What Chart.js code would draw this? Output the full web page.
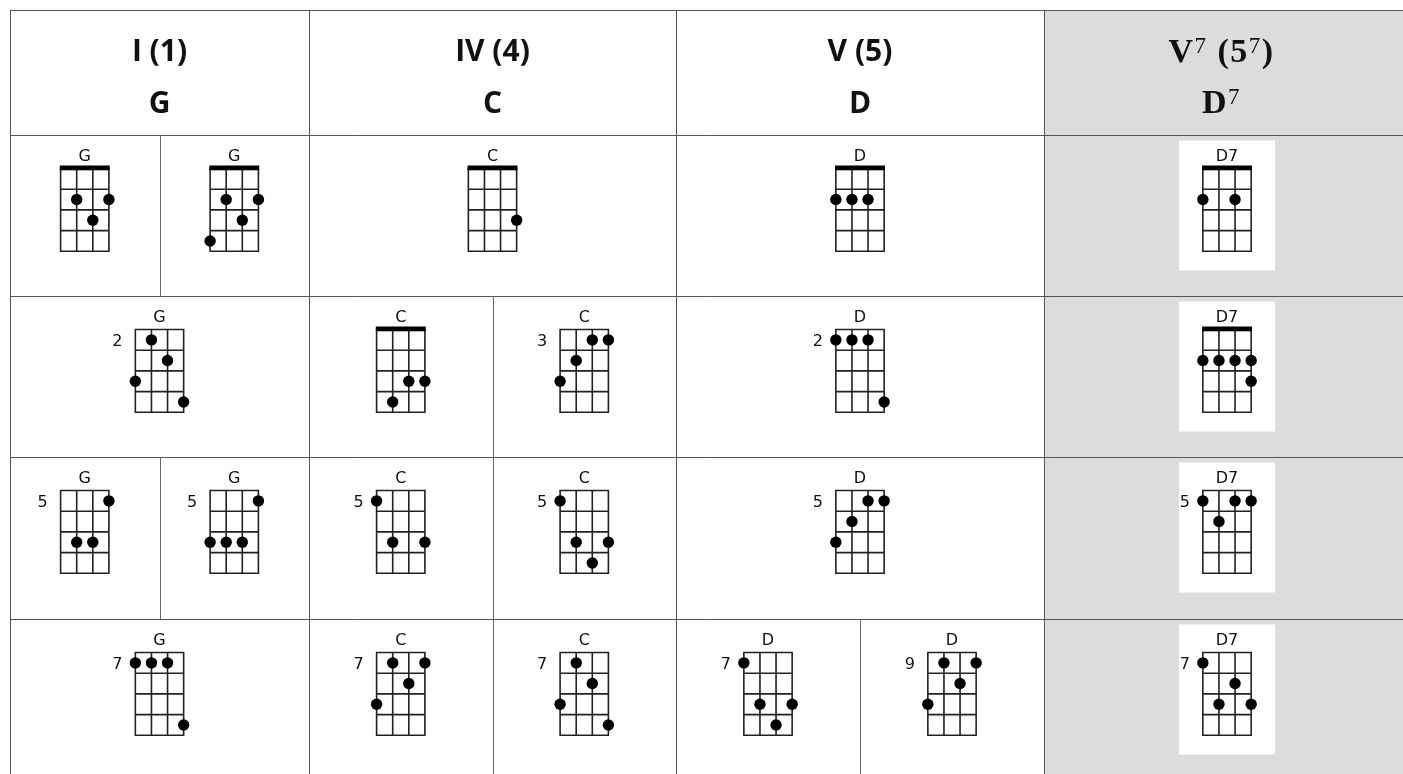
<!DOCTYPE html>
<html><head><meta charset="utf-8">
<script src="https://cdn.jsdelivr.net/npm/chart.js@4.4.0/dist/chart.umd.min.js"></script>
<style>html,body{margin:0;padding:0;background:#fff;overflow:hidden}canvas{display:block}</style>
</head><body>
<canvas id="c" width="1403" height="774"></canvas>
<script>
// ---------- DATA ----------
const romanNumerals = ['I', 'IV', 'V', 'V'];
const scaleDegrees = ['1', '4', '5', '5'];
const headerSuperscripts = ['', '', '', '7'];
const chordRoots = ['G', 'C', 'D', 'D'];
const highlightColumn = 3;

const diagramNames = ['G','G','C','D','D7', 'G','C','C','D','D7', 'G','G','C','C','D','D7', 'G','C','C','D','D','D7'];
const diagramColumns = [0,0,1,2,3, 0,1,1,2,3, 0,0,1,1,2,3, 0,1,1,2,2,3];
const diagramRows =    [0,0,0,0,0, 1,1,1,1,1, 2,2,2,2,2,2, 3,3,3,3,3,3];
const diagramBaseFrets = [0,0,0,0,0, 2,0,3,2,0, 5,5,5,5,5,5, 7,7,7,7,9,7]; // 0 = open position (nut)
// each dot: [string (0..3, left to right), fret row (1..4)]
const diagramDots = [
  [[1,2],[3,2],[2,3]],
  [[1,2],[3,2],[2,3],[0,4]],
  [[3,3]],
  [[0,2],[1,2],[2,2]],
  [[0,2],[2,2]],
  [[1,1],[2,2],[0,3],[3,4]],
  [[2,3],[3,3],[1,4]],
  [[2,1],[3,1],[1,2],[0,3]],
  [[0,1],[1,1],[2,1],[3,4]],
  [[0,2],[1,2],[2,2],[3,2],[3,3]],
  [[3,1],[1,3],[2,3]],
  [[3,1],[0,3],[1,3],[2,3]],
  [[0,1],[1,3],[3,3]],
  [[0,1],[1,3],[3,3],[2,4]],
  [[2,1],[3,1],[1,2],[0,3]],
  [[0,1],[2,1],[3,1],[1,2]],
  [[0,1],[1,1],[2,1],[3,4]],
  [[1,1],[3,1],[2,2],[0,3]],
  [[1,1],[2,2],[0,3],[3,4]],
  [[0,1],[1,3],[3,3],[2,4]],
  [[1,1],[3,1],[2,2],[0,3]],
  [[0,1],[2,2],[1,3],[3,3]]
];

// ---------- LAYOUT ----------
const colEdges = [10, 309, 676, 1044, 1410];
const rowEdges = [10, 135, 296, 457, 619, 781];
const STRING_GAP = 16.1, FRET_GAP = 20.7, FRETS = 4, STRINGS = 4;
const GRID_OFFSET = 33.5;

const slotIndex = [], slotCount = [];
diagramNames.forEach((_, i) => {
  let idx = 0, cnt = 0;
  diagramNames.forEach((__, j) => {
    if (diagramRows[j] === diagramRows[i] && diagramColumns[j] === diagramColumns[i]) {
      if (j < i) idx++;
      cnt++;
    }
  });
  slotIndex.push(idx); slotCount.push(cnt);
});
function diagramCenterX(i) {
  const c = diagramColumns[i];
  const l = colEdges[c], r = colEdges[c + 1];
  const w = (r - l) / slotCount[i];
  return l + w * (slotIndex[i] + 0.5);
}
function diagramTop(i) { return rowEdges[diagramRows[i] + 1] + GRID_OFFSET; }

const dotPoints = [];
diagramDots.forEach((dots, i) => {
  const left = diagramCenterX(i) - STRING_GAP * (STRINGS - 1) / 2;
  const top = diagramTop(i);
  dots.forEach(([s, f]) => dotPoints.push({ x: left + s * STRING_GAP, y: top + (f - 0.5) * FRET_GAP }));
});

// ---------- DRAW PLUGIN ----------
const tablePlugin = {
  id: 'chordTable',
  beforeDatasetsDraw(chart) {
    const ctx = chart.ctx;
    const X = v => chart.scales.x.getPixelForValue(v);
    const Y = v => chart.scales.y.getPixelForValue(v);
    const W = chart.width, H = chart.height;
    ctx.save();
    ctx.fillStyle = '#dcdcdc';
    ctx.fillRect(X(colEdges[highlightColumn]), Y(rowEdges[0]), X(colEdges[highlightColumn + 1]) - X(colEdges[highlightColumn]), Y(rowEdges[5]) - Y(rowEdges[0]));
    ctx.fillStyle = '#ffffff';
    diagramNames.forEach((n, i) => {
      if (diagramColumns[i] !== highlightColumn) return;
      const cx = diagramCenterX(i), t = diagramTop(i);
      ctx.fillRect(X(cx - 48), Y(t - 28), X(cx + 48) - X(cx - 48), Y(t + 102) - Y(t - 28));
    });
    ctx.strokeStyle = '#555';
    ctx.lineWidth = 1;
    ctx.beginPath();
    rowEdges.slice(0, 5).forEach(r => { const y = Math.round(Y(r)) + 0.5; ctx.moveTo(X(colEdges[0]), y); ctx.lineTo(W, y); });
    colEdges.slice(0, 4).forEach(c => { const x = Math.round(X(c)) + 0.5; ctx.moveTo(x, Y(rowEdges[0])); ctx.lineTo(x, H); });
    ctx.stroke();
    ctx.strokeStyle = '#666';
    ctx.beginPath();
    diagramNames.forEach((n, i) => {
      if (slotCount[i] === 2 && slotIndex[i] === 1) {
        const c = diagramColumns[i];
        const x = Math.round(X((colEdges[c] + colEdges[c + 1]) / 2)) + 0.5;
        ctx.moveTo(x, Y(rowEdges[diagramRows[i] + 1])); ctx.lineTo(x, Y(rowEdges[diagramRows[i] + 2]));
      }
    });
    ctx.stroke();

    function drawRich(parts, cx, by, spacing) {
      ctx.letterSpacing = spacing || '0px';
      let total = 0;
      parts.forEach(p => { ctx.font = p.font; p.w = ctx.measureText(p.text).width; total += p.w; });
      let x = cx - total / 2;
      ctx.textAlign = 'left'; ctx.textBaseline = 'alphabetic';
      parts.forEach(p => { ctx.font = p.font; ctx.fillText(p.text, x, by + (p.dy || 0)); x += p.w; });
      ctx.letterSpacing = '0px';
    }
    ctx.fillStyle = '#111';
    romanNumerals.forEach((rn, c) => {
      const cx = X((colEdges[c] + Math.min(colEdges[c + 1], 1403)) / 2 + (c === highlightColumn ? -2 : 0));
      const sup = headerSuperscripts[c];
      if (sup) {
        const big = 'bold 34px "Liberation Serif"', small = '23px "Liberation Serif"';
        drawRich([{text: rn, font: big}, {text: sup, font: small, dy: -9}, {text: ' (' + scaleDegrees[c], font: big}, {text: sup, font: small, dy: -9}, {text: ')', font: big}], cx, Y(62), '1.5px');
        drawRich([{text: chordRoots[c], font: big}, {text: sup, font: small, dy: -9}], cx, Y(113), '1.5px');
      } else {
        const big = 'bold 30px "Open Sans"';
        drawRich([{text: rn + ' (' + scaleDegrees[c] + ')', font: big}], cx, Y(61));
        drawRich([{text: chordRoots[c], font: big}], cx, Y(113));
      }
    });

    diagramNames.forEach((name, i) => {
      const cx = diagramCenterX(i), top = diagramTop(i);
      const left = cx - STRING_GAP * (STRINGS - 1) / 2;
      const right = left + STRING_GAP * (STRINGS - 1);
      const bottom = top + FRETS * FRET_GAP;
      ctx.fillStyle = '#111';
      ctx.font = '16px "DejaVu Sans"';
      ctx.textAlign = 'center'; ctx.textBaseline = 'alphabetic';
      ctx.fillText(name, X(cx), Y(top - 8));
      if (diagramBaseFrets[i] > 0) {
        ctx.textAlign = 'right'; ctx.textBaseline = 'middle';
        ctx.fillText(String(diagramBaseFrets[i]), X(left - 13), Y(top + FRET_GAP / 2 + 2));
      }
      ctx.strokeStyle = '#222';
      ctx.lineWidth = 1.6;
      ctx.beginPath();
      for (let s = 0; s < STRINGS; s++) { const x = X(left + s * STRING_GAP); ctx.moveTo(x, Y(top)); ctx.lineTo(x, Y(bottom)); }
      for (let f = 0; f <= FRETS; f++) { const y = Y(top + f * FRET_GAP); ctx.moveTo(X(left) - 0.8, y); ctx.lineTo(X(right) + 0.8, y); }
      ctx.stroke();
      if (diagramBaseFrets[i] === 0) {
        ctx.fillStyle = '#000';
        ctx.fillRect(X(left) - 0.8, Y(top - 3), X(right) - X(left) + 1.6, Y(top + 1.8) - Y(top - 3));
      }
    });
    ctx.restore();
  }
};

new Chart(document.getElementById('c').getContext('2d'), {
  type: 'scatter',
  data: { datasets: [{ data: dotPoints, pointRadius: 5.7, pointHoverRadius: 5.7, backgroundColor: '#000', borderWidth: 0, clip: false }] },
  options: {
    responsive: false, animation: false, devicePixelRatio: 1, events: [],
    layout: { padding: 0, autoPadding: false },
    plugins: { legend: { display: false }, tooltip: { enabled: false } },
    scales: {
      x: { type: 'linear', min: 0, max: 1403, display: false },
      y: { type: 'linear', min: 0, max: 774, reverse: true, display: false }
    }
  },
  plugins: [tablePlugin]
});
</script>
</body></html>
